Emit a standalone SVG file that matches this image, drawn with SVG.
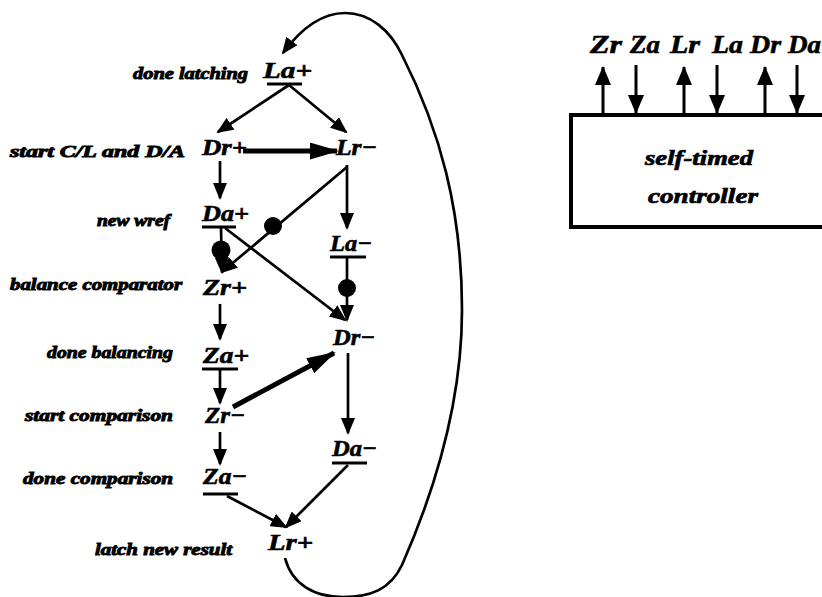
<svg xmlns="http://www.w3.org/2000/svg" width="822" height="597" viewBox="0 0 822 597">
<defs>
<marker id="ah" markerUnits="userSpaceOnUse" markerWidth="18" markerHeight="14" refX="15" refY="7" orient="auto">
<path d="M0,0 L17,7 L0,14 z" fill="#000"/>
</marker>
<marker id="ahT" markerUnits="userSpaceOnUse" markerWidth="30" markerHeight="17" refX="27" refY="8.5" orient="auto">
<path d="M0,0 L29,8.5 L0,17 z" fill="#000"/>
</marker>
<marker id="ahB" markerUnits="userSpaceOnUse" markerWidth="20" markerHeight="16" refX="18" refY="8" orient="auto">
<path d="M0,0 L19,8 L0,16 z" fill="#000"/>
</marker>
</defs>
<style>
.lab{font-family:"Liberation Serif",serif;font-weight:bold;font-style:italic;font-size:16px;fill:#000;stroke:#000;stroke-width:0.9}
.nd{font-family:"Liberation Serif",serif;font-weight:bold;font-style:italic;font-size:24px;fill:#000;stroke:#000;stroke-width:0.6}
.sig{font-family:"Liberation Serif",serif;font-weight:bold;font-style:italic;font-size:26px;fill:#000;stroke:#000;stroke-width:0.6}
.ct{font-family:"Liberation Serif",serif;font-weight:bold;font-style:italic;font-size:21px;fill:#000;stroke:#000;stroke-width:0.7}
.ul{stroke:#000;stroke-width:3}
.c{stroke:#000;stroke-width:2.7;fill:none;marker-end:url(#ah)}
.ct2{stroke:#000;stroke-width:5;fill:none;marker-end:url(#ahT)}
.b{fill:#000}
</style>

<g id="labels">
<text class="lab" x="133" y="79" textLength="115" lengthAdjust="spacingAndGlyphs">done latching</text>
<text class="lab" x="10" y="157" textLength="175" lengthAdjust="spacingAndGlyphs">start C/L and D/A</text>
<text class="lab" x="97" y="226" textLength="73" lengthAdjust="spacingAndGlyphs">new wref</text>
<text class="lab" x="10" y="290" textLength="172" lengthAdjust="spacingAndGlyphs">balance comparator</text>
<text class="lab" x="47" y="358" textLength="126" lengthAdjust="spacingAndGlyphs">done balancing</text>
<text class="lab" x="25" y="421" textLength="148" lengthAdjust="spacingAndGlyphs">start comparison</text>
<text class="lab" x="23" y="484" textLength="150" lengthAdjust="spacingAndGlyphs">done comparison</text>
<text class="lab" x="95" y="555" textLength="137" lengthAdjust="spacingAndGlyphs">latch new result</text>
</g>

<g id="n-La-plus"><text class="nd" x="263" y="78" textLength="49" lengthAdjust="spacingAndGlyphs">La+</text><line class="ul" x1="267" y1="84" x2="302" y2="84"/></g>
<g id="n-Dr-plus"><text class="nd" x="202" y="155" textLength="45" lengthAdjust="spacingAndGlyphs">Dr+</text></g>
<g id="n-Lr-minus"><text class="nd" x="336" y="155" textLength="41" lengthAdjust="spacingAndGlyphs">Lr−</text></g>
<g id="n-Da-plus"><text class="nd" x="202" y="221" textLength="47" lengthAdjust="spacingAndGlyphs">Da+</text><line class="ul" x1="202" y1="227" x2="236" y2="227"/></g>
<g id="n-La-minus"><text class="nd" x="330" y="251" textLength="42" lengthAdjust="spacingAndGlyphs">La−</text><line class="ul" x1="330" y1="257" x2="366" y2="257"/></g>
<g id="n-Zr-plus"><text class="nd" x="203" y="295" textLength="44" lengthAdjust="spacingAndGlyphs">Zr+</text></g>
<g id="n-Dr-minus"><text class="nd" x="333" y="345" textLength="42" lengthAdjust="spacingAndGlyphs">Dr−</text></g>
<g id="n-Za-plus"><text class="nd" x="203" y="363" textLength="46" lengthAdjust="spacingAndGlyphs">Za+</text><line class="ul" x1="202" y1="369" x2="238" y2="369"/></g>
<g id="n-Zr-minus"><text class="nd" x="205" y="423" textLength="40" lengthAdjust="spacingAndGlyphs">Zr−</text></g>
<g id="n-Da-minus"><text class="nd" x="332" y="456" textLength="45" lengthAdjust="spacingAndGlyphs">Da−</text><line class="ul" x1="332" y1="463" x2="367" y2="463"/></g>
<g id="n-Za-minus"><text class="nd" x="203" y="484" textLength="44" lengthAdjust="spacingAndGlyphs">Za−</text><line class="ul" x1="203" y1="494" x2="238" y2="494"/></g>
<g id="n-Lr-plus"><text class="nd" x="268" y="550" textLength="45" lengthAdjust="spacingAndGlyphs">Lr+</text></g>

<g id="connectors">
<line class="c" x1="289" y1="85" x2="218" y2="132"/>
<line class="c" x1="289" y1="85" x2="346" y2="132"/>
<line class="ct2" x1="243" y1="151" x2="337" y2="151"/>
<line class="c" x1="220" y1="161" x2="220" y2="198"/>
<line class="c" x1="347" y1="165" x2="347" y2="228"/>
<line class="c" x1="347" y1="167" x2="222" y2="272"/>
<circle class="b" cx="273" cy="226" r="9"/>
<line class="c" x1="221" y1="228" x2="222" y2="272"/>
<circle class="b" cx="221" cy="250" r="9.5"/>
<line class="c" x1="225" y1="228" x2="345" y2="320"/>
<line class="c" x1="347" y1="258" x2="347" y2="320"/>
<circle class="b" cx="347" cy="288" r="9"/>
<line class="c" x1="220" y1="304" x2="220" y2="339"/>
<line class="c" x1="220" y1="370" x2="220" y2="403"/>
<line class="ct2" x1="233" y1="407" x2="334" y2="353"/>
<line class="c" x1="348" y1="353" x2="348" y2="433"/>
<line class="c" x1="220" y1="432" x2="220" y2="464"/>
<line class="c" x1="227" y1="496" x2="286" y2="527"/>
<line class="c" x1="348" y1="465" x2="286" y2="527"/>
<path class="c" d="M285,558 C292,585 315,597 343,597 C370,597 390,590 402,565 C435,490 462,400 462,310 C462,210 440,130 402,55 C390,30 370,13 345,13 C320,13 300,30 283,53"/>
</g>

<g id="controller">
<rect x="571" y="115" width="270" height="112" fill="none" stroke="#000" stroke-width="4"/>
<text class="ct" x="645" y="165" textLength="108" lengthAdjust="spacingAndGlyphs">self-timed</text>
<text class="ct" x="648" y="203" textLength="110" lengthAdjust="spacingAndGlyphs">controller</text>
</g>

<g id="signals">
<text class="sig" x="590" y="53" textLength="32" lengthAdjust="spacingAndGlyphs">Zr</text>
<text class="sig" x="630" y="53" textLength="30" lengthAdjust="spacingAndGlyphs">Za</text>
<text class="sig" x="670" y="53" textLength="30" lengthAdjust="spacingAndGlyphs">Lr</text>
<text class="sig" x="712" y="53" textLength="31" lengthAdjust="spacingAndGlyphs">La</text>
<text class="sig" x="750" y="53" textLength="31" lengthAdjust="spacingAndGlyphs">Dr</text>
<text class="sig" x="788" y="53" textLength="33" lengthAdjust="spacingAndGlyphs">Da</text>
<g style="stroke:#000;stroke-width:3;fill:none">
<line x1="603" y1="113" x2="603" y2="67" marker-end="url(#ahB)"/>
<line x1="636" y1="65" x2="636" y2="113" marker-end="url(#ahB)"/>
<line x1="684" y1="113" x2="684" y2="67" marker-end="url(#ahB)"/>
<line x1="717" y1="65" x2="717" y2="113" marker-end="url(#ahB)"/>
<line x1="765" y1="113" x2="765" y2="67" marker-end="url(#ahB)"/>
<line x1="797" y1="65" x2="797" y2="113" marker-end="url(#ahB)"/>
</g>
</g>
</svg>
